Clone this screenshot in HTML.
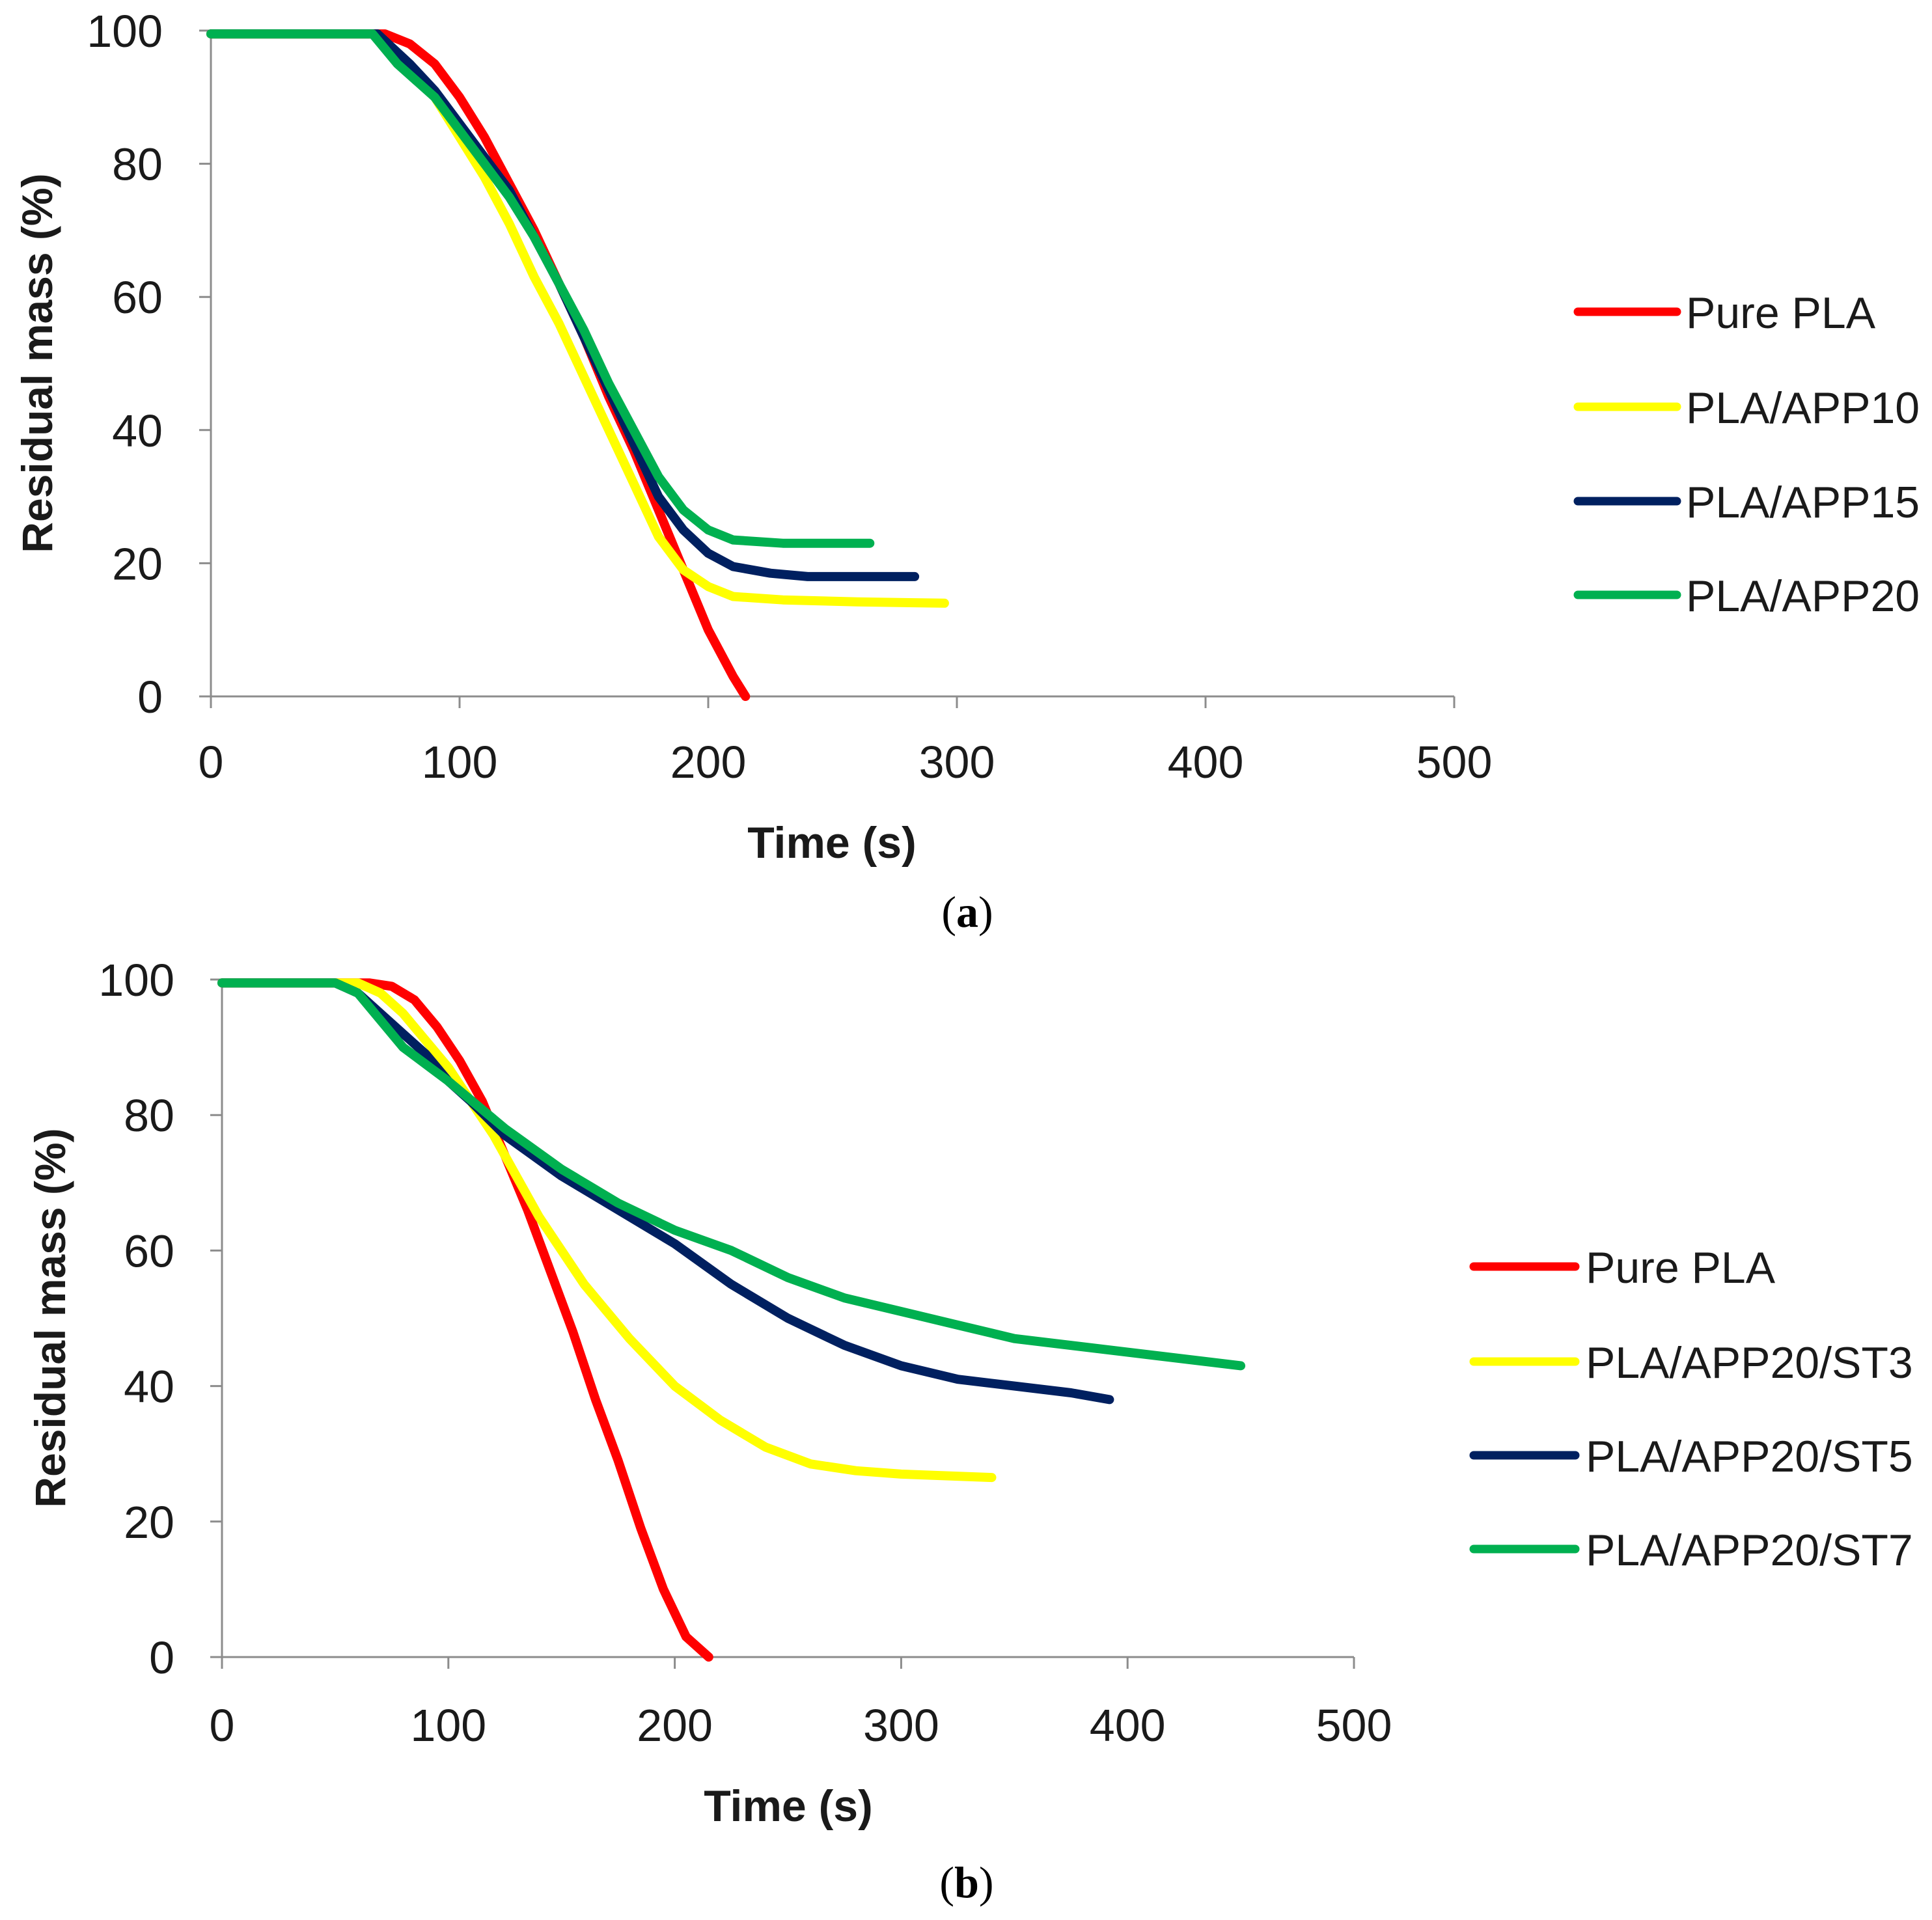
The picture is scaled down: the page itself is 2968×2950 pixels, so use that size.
<!DOCTYPE html>
<html><head><meta charset="utf-8"><style>
html,body{margin:0;padding:0;background:#fff;}
svg{display:block;font-family:"Liberation Sans",sans-serif;}
</style></head><body>
<svg id="fig" width="2968" height="2950" viewBox="0 0 2968 2950" xmlns="http://www.w3.org/2000/svg"></svg>
<script>
// ---- chart (a) data ----
const aRedT=[0,70,80,90,100,110,120,130,140,150,160,170,180,190,200,210,215];
const aRedM=[99.5,99.5,98,95,90,84,77,70,62,54,45,37,28,19,10,3,0];
const aYelT=[0,65,75,90,100,110,120,130,140,150,160,170,180,190,200,210,230,260,295];
const aYelM=[99.5,99.5,96,90,84,78,71,63,56,48,40,32,24,19,16.5,15,14.5,14.2,14];
const aNavT=[0,67,80,90,100,110,120,130,140,150,160,170,180,190,200,210,225,240,283];
const aNavM=[99.5,99.5,95,91,86,81,76,69,62,54,46,38,30,25,21.5,19.5,18.5,18,18];
const aGrnT=[0,65,75,90,100,110,120,130,140,150,160,170,180,190,200,210,230,265];
const aGrnM=[99.5,99.5,95,90,85,80,75,69,62,55,47,40,33,28,25,23.5,23,23];
const aNames=["Pure PLA","PLA/APP10","PLA/APP15","PLA/APP20"];
// ---- chart (b) data ----
const bRedT=[0,65,75,85,95,105,115,125,135,145,155,165,175,185,195,205,215];
const bRedM=[99.5,99.5,99,97,93,88,82,74,66,57,48,38,29,19,10,3,0];
const bYelT=[0,60,70,80,90,100,110,120,130,140,150,160,170,180,200,220,240,260,280,300,340];
const bYelM=[99.5,99.5,98,95,91,87,82,77,71,65,60,55,51,47,40,35,31,28.5,27.5,27,26.5];
const bNavT=[0,50,60,70,80,90,100,110,125,150,175,200,225,250,275,300,325,350,375,392];
const bNavM=[99.5,99.5,98,95,92,89,85,82,77,71,66,61,55,50,46,43,41,40,39,38];
const bGrnT=[0,50,60,70,80,100,125,150,175,200,225,250,275,300,325,350,400,450];
const bGrnM=[99.5,99.5,98,94,90,85,78,72,67,63,60,56,53,51,49,47,45,43];
const bNames=["Pure PLA","PLA/APP20/ST3","PLA/APP20/ST5","PLA/APP20/ST7"];
const xTicks=[0,100,200,300,400,500];
const yTicks=[0,20,40,60,80,100];
const colors=["#ff0000","#ffff00","#002060","#00b050"];

const NS="http://www.w3.org/2000/svg";
const svg=document.getElementById('fig');
function el(tag,attrs,parent,text){const e=document.createElementNS(NS,tag);for(const k in attrs)e.setAttribute(k,attrs[k]);if(text!==undefined)e.textContent=text;(parent||svg).appendChild(e);return e;}

function chart(cfg){
  const g=el('g',{});
  
  
  const sx=t=>cfg.x0+(t/500)*(cfg.x1-cfg.x0);
  const sy=m=>cfg.y0-(m/100)*(cfg.y0-cfg.y1);
  const ax=el('path',{d:`M${sx(0)},${sy(100)} L${sx(0)},${sy(0)} L${sx(500)},${sy(0)}`,stroke:'#8c8c8c','stroke-width':3,fill:'none'},g);
  
  
  yTicks.forEach(v=>{
    const tk=el('line',{x1:sx(0)-18,x2:sx(0),y1:sy(v),y2:sy(v),stroke:'#8c8c8c','stroke-width':3},g);
    
    
    const t=el('text',{x:cfg.yLabX,y:sy(v)+25,'text-anchor':'end','font-size':70,fill:'#1a1a1a'},g,String(v));
    
    
  });
  xTicks.forEach(v=>{
    const tk=el('line',{x1:sx(v),x2:sx(v),y1:sy(0),y2:sy(0)+18,stroke:'#8c8c8c','stroke-width':3},g);
    
    
    const t=el('text',{x:sx(v),y:cfg.xLabY,'text-anchor':'middle','font-size':70,fill:'#1a1a1a'},g,String(v));
    
    
  });
  const xt=el('text',{x:cfg.xTitleX,y:cfg.xTitleY,'text-anchor':'middle','font-size':68,'font-weight':'bold',fill:'#1a1a1a'},g,'Time (s)');
  
  
  const yt=el('text',{x:0,y:0,'text-anchor':'middle','font-size':66,'font-weight':'bold',fill:'#1a1a1a',transform:`translate(${cfg.yTitleX},${cfg.yTitleY}) rotate(-90)`},g,'Residual mass (%)');
  
  
  cfg.series.forEach((s,i)=>{
    const d=s[0].map((t,j)=>(j?'L':'M')+sx(t).toFixed(1)+','+sy(s[1][j]).toFixed(1)).join(' ');
    const p=el('path',{d:d,stroke:colors[i],'stroke-width':14,fill:'none','stroke-linejoin':'round','stroke-linecap':'round'},g);
    
    
  });
  cfg.names.forEach((n,i)=>{
    const y=cfg.legY[i];
    const lg=el('g',{},g);
    
    
    el('line',{x1:cfg.legX1,x2:cfg.legX2,y1:y,y2:y,stroke:colors[i],'stroke-width':13,'stroke-linecap':'round'},lg);
    el('text',{x:cfg.legTX,y:y+25,'font-size':68,fill:'#1a1a1a'},lg,n);
  });
  const cap=el('text',{x:cfg.capX,y:cfg.capY,'text-anchor':'middle','font-size':68,'font-family':'Liberation Serif, serif',fill:'#000'},g);
  
  
  el('tspan',{},cap,'(');el('tspan',{'font-weight':'bold'},cap,cfg.cap);el('tspan',{},cap,')');
}
chart({id:'chart-a',x0:324,x1:2234,y0:1070,y1:47,yLabX:250,xLabY:1195,xTitleX:1278,xTitleY:1318,yTitleX:80,yTitleY:558,
  series:[[aRedT,aRedM],[aYelT,aYelM],[aNavT,aNavM],[aGrnT,aGrnM]],names:aNames,
  legY:[479,625,770,914],legX1:2424,legX2:2576,legTX:2590,capX:1486,capY:1424,cap:'a'});
chart({id:'chart-b',x0:341,x1:2080,y0:2546,y1:1505,yLabX:268,xLabY:2675,xTitleX:1211,xTitleY:2798,yTitleX:100,yTitleY:2025,
  series:[[bRedT,bRedM],[bYelT,bYelM],[bNavT,bNavM],[bGrnT,bGrnM]],names:bNames,
  legY:[1946,2092,2236,2380],legX1:2264,legX2:2420,legTX:2436,capX:1485,capY:2915,cap:'b'});
</script>
</body></html>
